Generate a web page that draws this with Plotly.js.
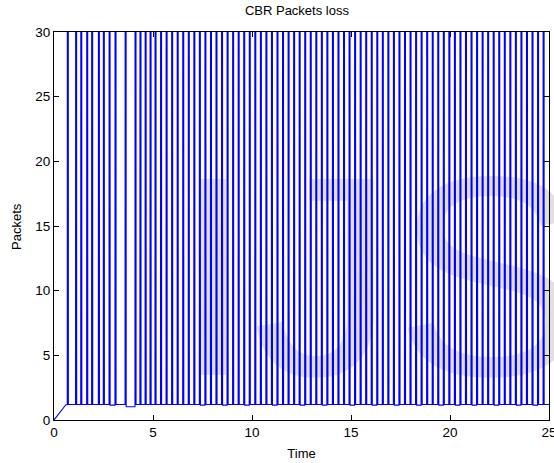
<!DOCTYPE html>
<html>
<head>
<meta charset="utf-8">
<script src="https://cdn.plot.ly/plotly-3.0.1.min.js"></script>
<style>
  html, body { margin: 0; padding: 0; background: #ffffff; }
  #wrap { position: relative; width: 554px; height: 463px; overflow: hidden; }
  #wm { position: absolute; left: 0; top: 0; }
  #chart { position: absolute; left: 0; top: 0; width: 554px; height: 463px; }
</style>
</head>
<body>
<div id="wrap">
  <svg id="wm" width="554" height="463" xmlns="http://www.w3.org/2000/svg">
    <text x="173" y="375" font-family="Liberation Sans, Arial, sans-serif" font-size="285" fill="#e0e0e0">IJS</text>
  </svg>
  <div id="chart"></div>
</div>
<script>
// Start-up ramp of the curve (time, packets)
const rampTime = [0, 0.15, 0.3, 0.45, 0.6];
const rampValue = [0, 0.28, 0.58, 0.9, 1.18];

// Times at which a loss spike occurs
const spikeTimes = [
  0.67, 1.09, 1.35, 1.65, 1.90, 2.24, 2.49, 2.78, 3.08, 3.59,
  4.09, 4.34, 4.60, 4.85, 5.10, 5.38, 5.66, 5.94, 6.22, 6.50,
  6.78, 7.06, 7.34, 7.62, 7.90, 8.18, 8.46, 8.74, 9.02, 9.30,
  9.58, 9.86, 10.14, 10.42, 10.70, 10.98, 11.26, 11.54, 11.82, 12.10,
  12.38, 12.66, 12.94, 13.22, 13.50, 13.78, 14.06, 14.34, 14.62, 14.90,
  15.18, 15.46, 15.74, 16.02, 16.30, 16.58, 16.86, 17.14, 17.42, 17.70,
  17.98, 18.26, 18.54, 18.82, 19.10, 19.38, 19.66, 19.94, 20.22, 20.50,
  20.78, 21.06, 21.34, 21.62, 21.90, 22.18, 22.46, 22.74, 23.02, 23.30,
  23.58, 23.86, 24.14, 24.42, 24.70
];
// Baseline level after each spike
const baseAfter = [
  1.2, 1.2, 1.2, 1.2, 1.2, 1.2, 1.2, 1.15, 1.2, 1.02,
  1.2, 1.2, 1.2, 1.2, 1.2, 1.2, 1.2, 1.2, 1.2, 1.2,
  1.2, 1.2, 1.15, 1.2, 1.2, 1.2, 1.15, 1.2, 1.2, 1.2,
  1.15, 1.2, 1.2, 1.2, 1.2, 1.15, 1.2, 1.2, 1.2, 1.2,
  1.15, 1.2, 1.2, 1.2, 1.15, 1.2, 1.2, 1.2, 1.2, 1.15,
  1.2, 1.2, 1.2, 1.15, 1.2, 1.2, 1.2, 1.15, 1.2, 1.2,
  1.2, 1.15, 1.2, 1.2, 1.2, 1.15, 1.2, 1.2, 1.15, 1.2,
  1.2, 1.15, 1.2, 1.2, 1.2, 1.15, 1.2, 1.2, 1.2, 1.15,
  1.2, 1.2, 1.15, 1.2, 1.2
];
const spikePeak = 40;     // spikes exceed the axis top and are clipped
const spikeWidth = 0.05;
const endTime = 25;

const xs = rampTime.slice();
const ys = rampValue.slice();
let level = rampValue[rampValue.length - 1];
for (let i = 0; i < spikeTimes.length; i++) {
  const t = spikeTimes[i];
  xs.push(t, t + 0.005, t + spikeWidth, t + spikeWidth + 0.005);
  ys.push(level, spikePeak, spikePeak, baseAfter[i]);
  level = baseAfter[i];
}
xs.push(endTime);
ys.push(level);

const trace = {
  x: xs, y: ys, type: 'scatter', mode: 'lines',
  line: { color: '#0000ff', width: 1.1 },
  hoverinfo: 'skip'
};

const FONT = 'Liberation Sans, Arial, sans-serif';
const axisCommon = {
  showline: true, linecolor: '#000000', linewidth: 1,
  mirror: 'ticks', ticks: 'inside', ticklen: 5, tickcolor: '#000000',
  showgrid: false, zeroline: false, ticklabeloverflow: 'allow',
  tickfont: { family: FONT, size: 13.5, color: '#000000' }
};

const layout = {
  width: 554, height: 463,
  margin: { l: 54, r: 5, t: 32, b: 43 },
  paper_bgcolor: 'rgba(0,0,0,0)',
  plot_bgcolor: 'rgba(0,0,0,0)',
  showlegend: false,
  title: {
    text: 'CBR Packets loss',
    font: { family: FONT, size: 13, color: '#000000' },
    x: 0.536, xanchor: 'center', y: 0.978, yanchor: 'middle'
  },
  xaxis: Object.assign({}, axisCommon, {
    range: [0, 25], tickvals: [0, 5, 10, 15, 20, 25],
    title: { text: 'Time', standoff: 9, font: { family: FONT, size: 13, color: '#000000' } }
  }),
  yaxis: Object.assign({}, axisCommon, {
    range: [0, 30], tickvals: [0, 5, 10, 15, 20, 25, 30]
  }),
  annotations: [{
    text: 'Packets', textangle: -90, showarrow: false,
    xref: 'paper', yref: 'paper', x: -0.077, y: 0.5,
    xanchor: 'center', yanchor: 'middle',
    font: { family: FONT, size: 13, color: '#000000' }
  }]
};

Plotly.newPlot('chart', [trace], layout, { staticPlot: true, displayModeBar: false });
</script>
</body>
</html>
